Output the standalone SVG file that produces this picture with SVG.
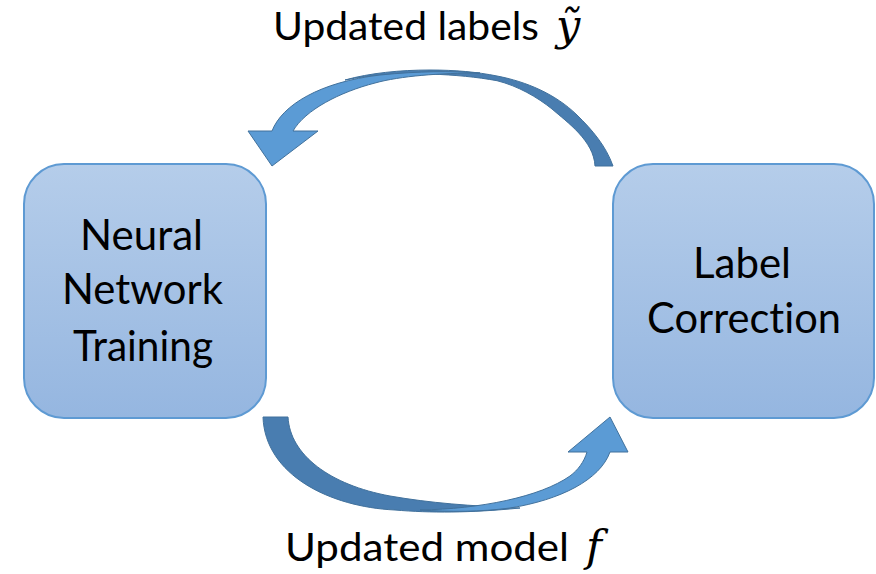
<svg xmlns="http://www.w3.org/2000/svg" width="876" height="574" viewBox="0 0 876 574">
  <defs>
    <linearGradient id="boxFill" x1="0" y1="0" x2="0" y2="1">
      <stop offset="0" stop-color="#B5CDEA"/>
      <stop offset="1" stop-color="#95B6E0"/>
    </linearGradient>
    <style>
      .box { fill: url(#boxFill); stroke: #5E9AD3; stroke-width: 2; }
      .node-text { font-family: Lato, "Open Sans", "Liberation Sans", sans-serif; font-size: 43px; fill: #000; font-variant-ligatures: none; }
      .edge-label { font-family: Lato, "Open Sans", "Liberation Sans", sans-serif; font-size: 38px; fill: #000; font-variant-ligatures: none; }
      .math { font-family: "DejaVu Serif", "Liberation Serif", serif; font-style: italic; font-size: 43px; fill: #000; }
      .arrow-back { fill: #497DB0; stroke: #41719C; stroke-width: 1; stroke-linejoin: round; }
      .arrow-front { fill: #5B9BD5; stroke: #41719C; stroke-width: 1; stroke-linejoin: miter; }
    </style>
  </defs>

  <rect width="876" height="574" fill="#FFFFFF"/>

  <!-- connectors -->
  <g id="connectors">
    <!-- upper curved arrow: Label Correction back to Neural Network Training -->
    <g id="arrow-top">
      <path class="arrow-back" d="M 613,166 C 606,146 592,129.6 577,115 C 555.4,94 526.5,81.7 497,76 C 477,72 455,70 430,70 C 400,70 370,73 345,80 C 370,75 400,73 430,74 C 455,75 477,77 497,80.7 C 518,86 537,97 552,109 C 567,122 594,141 595,166 Z"/>
      <path class="arrow-front" d="M 248,131 L 272,131 C 282,105 320,82 380,75 C 420,71 450,71 480,73 C 440,73 400,76 375,83 C 340,92 305,110 293,131 L 318,131 L 272,166 Z"/>
    </g>
    <!-- lower curved arrow: Neural Network Training to Label Correction -->
    <g id="arrow-bottom">
      <path class="arrow-back" d="M 263,417 L 288,417 C 290,455 330,485 390,496 C 430,503 470,506 520,508 C 470,513 430,513 395,510 C 330,507 265,475 263,417 Z"/>
      <path class="arrow-front" d="M 420,510 C 480,509 540,497 570,476 C 578,470 584,462 587,452 L 568,452 L 610,417 L 628,452 L 610,452 C 600,480 560,500 510,508 C 480,512 450,512 420,510 Z"/>
    </g>
    <text class="edge-label" x="273" y="40" textLength="266" lengthAdjust="spacingAndGlyphs">Updated labels</text>
    <text class="math" x="556" y="40">ỹ</text>
    <text class="edge-label" x="285" y="561" textLength="284" lengthAdjust="spacingAndGlyphs">Updated model</text>
    <text class="math" x="586" y="561">f</text>
  </g>

  <!-- nodes -->
  <g id="node-training">
    <rect class="box" x="24" y="164" width="242" height="254" rx="40" ry="40"/>
    <text class="node-text" x="80" y="250" textLength="123" lengthAdjust="spacingAndGlyphs">Neural</text>
    <text class="node-text" x="62" y="304" textLength="161" lengthAdjust="spacingAndGlyphs">Network</text>
    <text class="node-text" x="73" y="361" textLength="140" lengthAdjust="spacingAndGlyphs">Training</text>
  </g>

  <g id="node-correction">
    <rect class="box" x="613" y="164" width="261" height="254" rx="40" ry="40"/>
    <text class="node-text" x="693" y="278" textLength="98" lengthAdjust="spacingAndGlyphs">Label</text>
    <text class="node-text" x="647" y="333" textLength="194" lengthAdjust="spacingAndGlyphs">Correction</text>
  </g>
</svg>
